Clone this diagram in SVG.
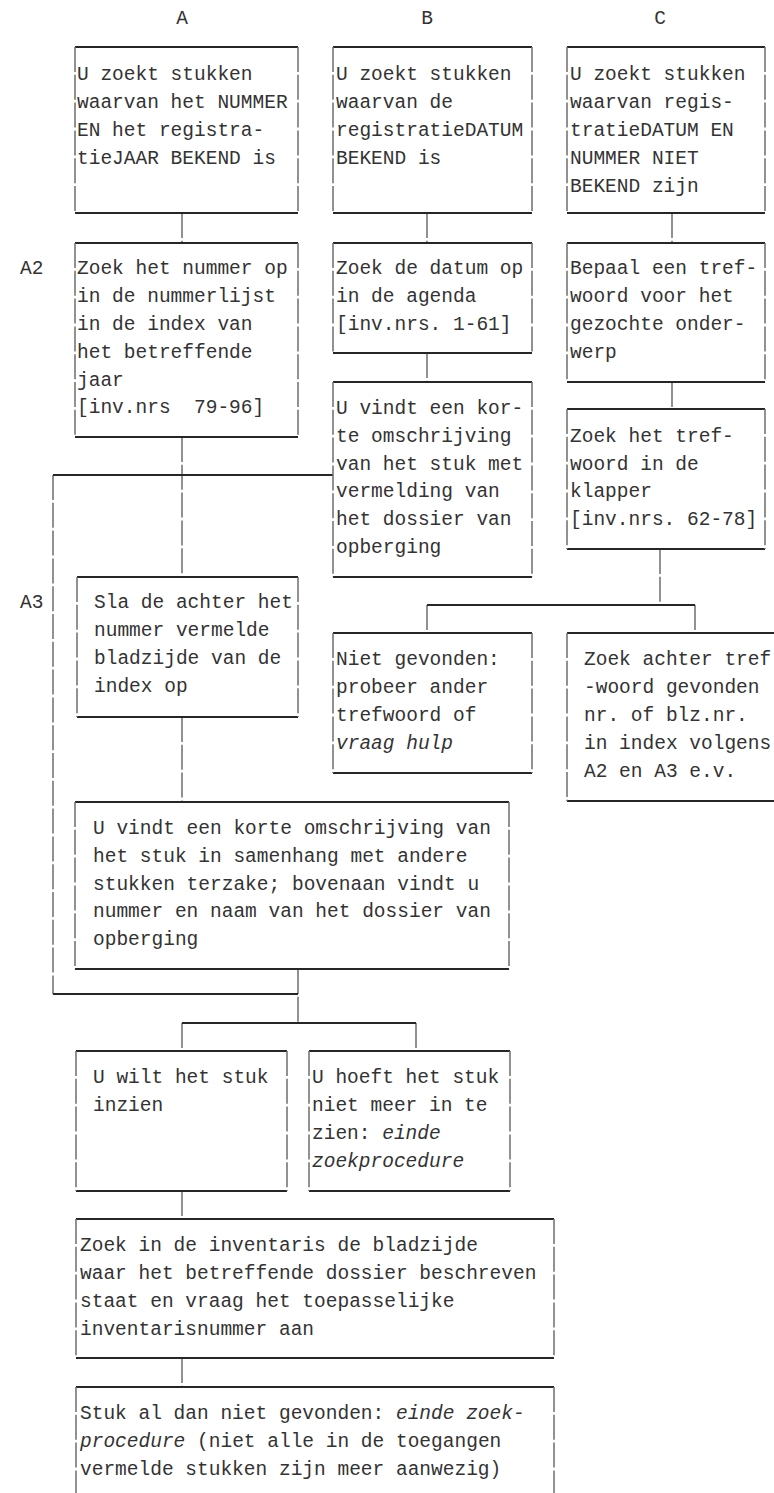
<svg xmlns="http://www.w3.org/2000/svg" width="774" height="1493" viewBox="0 0 774 1493">
<style>
  text { font-family: "Liberation Mono", "Courier New", monospace; font-size: 19.5px; fill: #333; }
  .lbl { text-anchor: middle; }
  .i { font-style: italic; }
  .h { stroke: #262626; stroke-width: 1.8; fill: none; }
  .v { stroke: #6e6e6e; stroke-width: 1.5; fill: none; stroke-dasharray: 25 2.8; }
  .bg { fill: #ffffff; stroke: none; }
</style>
<rect x="0" y="0" width="774" height="1493" fill="#ffffff"/>

<g id="labels">
  <text class="lbl" x="182" y="24">A</text>
  <text class="lbl" x="427" y="24">B</text>
  <text class="lbl" x="660" y="24">C</text>
  <text x="20" y="274">A2</text>
  <text x="20" y="608">A3</text>
</g>

<g id="connectors">
  <path class="v" d="M182 213V243M427 213V243M672 213V243M427 353V382M672 382V409M182 437V577M182 717V802M53 475V994M298 969V1023M182 1023V1051M416 1023V1051M660 549V605M427 605V633M695 605V633M182 1191V1219M182 1358V1387"/>
  <path class="h" d="M333 475H53M53 994H298M182 1023H416M427 605H695"/>
</g>

<g id="A1">
  <path class="h" d="M75 47H298M75 213H298"/><path class="v" d="M75 47V213M298 47V213"/>
  <text x="77" y="80">U zoekt stukken</text>
  <text x="77" y="108">waarvan het NUMMER</text>
  <text x="77" y="136">EN het registra-</text>
  <text x="77" y="164">tieJAAR BEKEND is</text>
</g>

<g id="B1">
  <path class="h" d="M333 47H532M333 213H532"/><path class="v" d="M333 47V213M532 47V213"/>
  <text x="336" y="80">U zoekt stukken</text>
  <text x="336" y="108">waarvan de</text>
  <text x="336" y="136">registratieDATUM</text>
  <text x="336" y="164">BEKEND is</text>
</g>

<g id="C1">
  <path class="h" d="M567 47H765M567 213H765"/><path class="v" d="M567 47V213M765 47V213"/>
  <text x="570" y="80">U zoekt stukken</text>
  <text x="570" y="108">waarvan regis-</text>
  <text x="570" y="136">tratieDATUM EN</text>
  <text x="570" y="164">NUMMER NIET</text>
  <text x="570" y="192">BEKEND zijn</text>
</g>

<g id="A2">
  <path class="h" d="M75 243H298M75 437H298"/><path class="v" d="M75 243V437M298 243V437"/>
  <text x="77" y="274">Zoek het nummer op</text>
  <text x="77" y="302">in de nummerlijst</text>
  <text x="77" y="330">in de index van</text>
  <text x="77" y="358">het betreffende</text>
  <text x="77" y="386">jaar</text>
  <text x="77" y="413" xml:space="preserve" style="white-space:pre">[inv.nrs  79-96]</text>
</g>

<g id="B2">
  <path class="h" d="M333 243H532M333 353H532"/><path class="v" d="M333 243V353M532 243V353"/>
  <text x="336" y="274">Zoek de datum op</text>
  <text x="336" y="302">in de agenda</text>
  <text x="336" y="330">[inv.nrs. 1-61]</text>
</g>

<g id="C2">
  <path class="h" d="M567 243H765M567 382H765"/><path class="v" d="M567 243V382M765 243V382"/>
  <text x="570" y="274">Bepaal een tref-</text>
  <text x="570" y="302">woord voor het</text>
  <text x="570" y="330">gezochte onder-</text>
  <text x="570" y="358">werp</text>
</g>

<g id="B3">
  <path class="h" d="M333 382H532M333 577H532"/><path class="v" d="M333 382V577M532 382V577"/>
  <text x="336" y="414">U vindt een kor-</text>
  <text x="336" y="442">te omschrijving</text>
  <text x="336" y="470">van het stuk met</text>
  <text x="336" y="497">vermelding van</text>
  <text x="336" y="525">het dossier van</text>
  <text x="336" y="553">opberging</text>
</g>

<g id="C3">
  <path class="h" d="M567 409H765M567 549H765"/><path class="v" d="M567 409V549M765 409V549"/>
  <text x="570" y="442">Zoek het tref-</text>
  <text x="570" y="470">woord in de</text>
  <text x="570" y="497">klapper</text>
  <text x="570" y="525">[inv.nrs. 62-78]</text>
</g>

<g id="A3">
  <path class="h" d="M77 577H298M77 717H298"/><path class="v" d="M77 577V717M298 577V717"/>
  <text x="94" y="608">Sla de achter het</text>
  <text x="94" y="636">nummer vermelde</text>
  <text x="94" y="664">bladzijde van de</text>
  <text x="94" y="692">index op</text>
</g>

<g id="C4a">
  <path class="h" d="M333 633H532M333 773H532"/><path class="v" d="M333 633V773M532 633V773"/>
  <text x="336" y="665">Niet gevonden:</text>
  <text x="336" y="693">probeer ander</text>
  <text x="336" y="721">trefwoord of</text>
  <text x="336" y="749" class="i">vraag hulp</text>
</g>

<g id="C4b">
  <path class="h" d="M567 633H774M567 801H774"/><path class="v" d="M567 633V801"/>
  <text x="584" y="665">Zoek achter tref</text>
  <text x="584" y="693">-woord gevonden</text>
  <text x="584" y="721">nr. of blz.nr.</text>
  <text x="584" y="749">in index volgens</text>
  <text x="584" y="777">A2 en A3 e.v.</text>
</g>

<g id="A4">
  <path class="h" d="M75 802H509M75 969H509"/><path class="v" d="M75 802V969M509 802V969"/>
  <text x="93" y="834">U vindt een korte omschrijving van</text>
  <text x="93" y="862">het stuk in samenhang met andere</text>
  <text x="93" y="890">stukken terzake; bovenaan vindt u</text>
  <text x="93" y="917">nummer en naam van het dossier van</text>
  <text x="93" y="945">opberging</text>
</g>

<g id="D1">
  <path class="h" d="M76 1051H287M76 1191H287"/><path class="v" d="M76 1051V1191M287 1051V1191"/>
  <text x="93" y="1083">U wilt het stuk</text>
  <text x="93" y="1111">inzien</text>
</g>

<g id="D2">
  <path class="h" d="M309 1051H510M309 1191H510"/><path class="v" d="M309 1051V1191M510 1051V1191"/>
  <text x="312" y="1083">U hoeft het stuk</text>
  <text x="312" y="1111">niet meer in te</text>
  <text x="312" y="1139">zien: <tspan class="i">einde</tspan></text>
  <text x="312" y="1167" class="i">zoekprocedure</text>
</g>

<g id="E">
  <path class="h" d="M76 1219H554M76 1358H554"/><path class="v" d="M76 1219V1358M554 1219V1358"/>
  <text x="80" y="1251">Zoek in de inventaris de bladzijde</text>
  <text x="80" y="1279">waar het betreffende dossier beschreven</text>
  <text x="80" y="1307">staat en vraag het toepasselijke</text>
  <text x="80" y="1335">inventarisnummer aan</text>
</g>

<g id="F">
  <path class="h" d="M76 1387H554"/><path class="v" d="M76 1387V1493M554 1387V1493"/>
  <text x="80" y="1419">Stuk al dan niet gevonden: <tspan class="i">einde zoek-</tspan></text>
  <text x="80" y="1447"><tspan class="i">procedure</tspan> (niet alle in de toegangen</text>
  <text x="80" y="1475">vermelde stukken zijn meer aanwezig)</text>
</g>
</svg>
